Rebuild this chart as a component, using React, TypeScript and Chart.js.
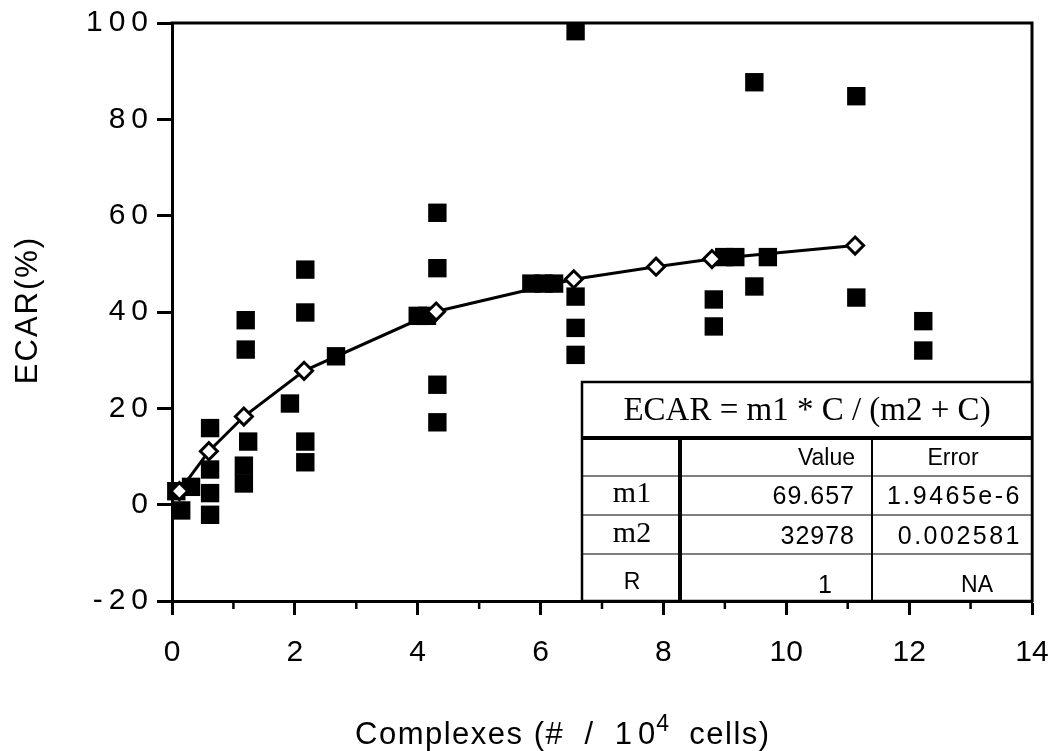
import React, { useEffect, useRef } from 'react';
import { Chart, registerables } from 'chart.js';

Chart.register(...registerables);

// Measured ECAR values at each complex density (x in units of 10^4 cells)
const measuredX = [0.07, 0.15, 0.31, 0.62, 0.62, 0.62, 0.62, 1.2, 1.2, 1.24, 1.17, 1.17, 1.92, 2.17, 2.17, 2.17, 2.17, 2.67, 4.0, 4.15, 4.32, 4.32, 4.32, 4.32, 5.85, 6.05, 6.22, 6.57, 6.57, 6.57, 6.57, 8.82, 8.82, 8.99, 9.17, 9.48, 9.48, 9.7, 11.14, 11.14, 12.23, 12.23];
const measuredY = [2.8, -1.2, 3.7, 15.9, 7.3, 2.4, -2.1, 38.3, 32.2, 13.1, 8.1, 4.4, 21.0, 48.8, 39.9, 13.1, 8.8, 30.8, 39.2, 39.2, 60.6, 49.1, 24.9, 17.1, 45.9, 45.9, 45.9, 98.3, 43.2, 36.7, 31.1, 42.6, 37.0, 51.4, 51.4, 87.7, 45.3, 51.4, 84.8, 43.0, 38.1, 32.0];

// Fitted curve points (open diamonds joined by a line)
const fitX = [0.12, 0.6, 1.17, 2.15, 4.3, 6.54, 7.88, 8.79, 11.12];
const fitY = [2.8, 11.1, 18.3, 27.8, 40.1, 46.8, 49.4, 51.0, 53.8];

// Axis ranges and labels
const xMin = 0;
const xMax = 14;
const xStep = 2;
const yMin = -20;
const yMax = 100;
const yStep = 20;
const yTitle = 'ECAR(%)';
const xTitleLead = 'Complexes (#  /  ';
const xTitleBase = '10';
const xTitleExp = '4';
const xTitleTail = '  cells)';

// Fit parameter table
const tableEquation = 'ECAR = m1 * C / (m2 + C)';
const tableHeaders = ['Value', 'Error'];
const paramNames = ['m1', 'm2', 'R'];
const paramValues = ['69.657', '32978', '1'];
const paramErrors = ['1.9465e-6', '0.002581', 'NA'];

const SANS = '"Liberation Sans", Arial, Helvetica, sans-serif';
const SERIF = '"Liberation Serif", "Times New Roman", serif';

const framePlugin = {
  id: 'frameAndTable',
  beforeDatasetsDraw(chart: any) {
    const { ctx, chartArea: a, scales } = chart;
    ctx.save();
    ctx.strokeStyle = '#000';
    ctx.lineWidth = 3;
    ctx.beginPath();
    ctx.moveTo(a.left - 1.5, a.top);
    ctx.lineTo(a.right, a.top);
    ctx.lineTo(a.right, a.bottom + 1.5);
    ctx.stroke();
    // minor ticks at odd x values
    const xs = scales.x;
    ctx.lineWidth = 2.5;
    ctx.beginPath();
    for (let v = xMin + 1; v < xMax; v += 2) {
      const px = xs.getPixelForValue(v);
      ctx.moveTo(px, a.bottom);
      ctx.lineTo(px, a.bottom + 8);
    }
    ctx.stroke();
    ctx.restore();
  },
  afterDatasetsDraw(chart: any) {
    // spaced digits for the value axis labels drawn in the next layer
    chart.ctx.letterSpacing = '6px';
  },
  afterDraw(chart: any) {
    const { ctx, chartArea: a } = chart;
    ctx.letterSpacing = '0px';
    ctx.save();
    ctx.fillStyle = '#000';

    // y-axis title
    ctx.save();
    ctx.translate(28, 311);
    ctx.rotate(-Math.PI / 2);
    ctx.font = `31px ${SANS}`;
    ctx.letterSpacing = '2px';
    ctx.textAlign = 'center';
    ctx.textBaseline = 'middle';
    ctx.fillText(yTitle, 1, 0);
    ctx.restore();

    // x-axis title with superscript exponent
    ctx.save();
    ctx.textBaseline = 'alphabetic';
    ctx.textAlign = 'left';
    ctx.font = `31px ${SANS}`;
    let x = 355;
    const base = 744;
    ctx.letterSpacing = '1.5px';
    ctx.fillText(xTitleLead, x, base);
    x += ctx.measureText(xTitleLead).width;
    ctx.letterSpacing = '6px';
    ctx.fillText(xTitleBase, x, base);
    x += ctx.measureText(xTitleBase).width - 5;
    ctx.font = `23px ${SANS}`;
    ctx.letterSpacing = '0px';
    ctx.fillText(xTitleExp, x, base - 13);
    x += ctx.measureText(xTitleExp).width;
    ctx.font = `31px ${SANS}`;
    ctx.letterSpacing = '1.5px';
    ctx.fillText(xTitleTail, x, base);
    ctx.restore();

    // parameter table
    const L = 582, T = 382, R = a.right, B = a.bottom;
    const titleLine = 438;
    const rowLines = [476, 515, 554];
    const c1 = 680, c2 = 872;
    ctx.fillStyle = '#fff';
    ctx.fillRect(L, T, R - L, B - T);
    ctx.strokeStyle = '#000';
    ctx.lineWidth = 1.2;
    ctx.beginPath();
    rowLines.forEach((ry) => { ctx.moveTo(L, ry); ctx.lineTo(R, ry); });
    ctx.stroke();
    ctx.lineWidth = 2;
    ctx.beginPath();
    ctx.moveTo(c2, titleLine); ctx.lineTo(c2, B);
    ctx.stroke();
    ctx.lineWidth = 4;
    ctx.beginPath();
    ctx.moveTo(L, titleLine); ctx.lineTo(R, titleLine);
    ctx.moveTo(c1, titleLine); ctx.lineTo(c1, B);
    ctx.stroke();
    ctx.lineWidth = 2.5;
    ctx.strokeRect(L, T, R - L, B - T);

    ctx.fillStyle = '#000';
    ctx.textBaseline = 'middle';
    ctx.font = `33px ${SERIF}`;
    ctx.textAlign = 'center';
    ctx.fillText(tableEquation, (L + R) / 2, 411);

    ctx.font = `23px ${SANS}`;
    ctx.textAlign = 'right';
    ctx.fillText(tableHeaders[0], 855, 459);
    ctx.textAlign = 'center';
    ctx.fillText(tableHeaders[1], 953, 459);

    const rowMid = [497, 537, 586];
    paramNames.forEach((name, i) => {
      ctx.textAlign = 'center';
      ctx.letterSpacing = '0px';
      if (name === 'R') {
        ctx.font = `23px ${SANS}`;
      } else {
        ctx.font = `30px ${SERIF}`;
      }
      ctx.fillText(name, 632, rowMid[i] - 3);

      ctx.font = `25px ${SANS}`;
      if (paramValues[i].length > 1) {
        ctx.textAlign = 'right';
        ctx.letterSpacing = '1px';
        ctx.fillText(paramValues[i], 855, rowMid[i]);
      } else {
        ctx.textAlign = 'center';
        ctx.fillText(paramValues[i], 825, rowMid[i]);
      }
      if (paramErrors[i].length > 2) {
        ctx.textAlign = 'right';
        ctx.letterSpacing = '2.5px';
        ctx.fillText(paramErrors[i], 1022, rowMid[i]);
      } else {
        ctx.textAlign = 'center';
        ctx.letterSpacing = '0px';
        ctx.font = `23px ${SANS}`;
        ctx.fillText(paramErrors[i], 977, rowMid[i]);
      }
    });
    ctx.letterSpacing = '0px';
    ctx.restore();
  },
};

export default function App() {
  const canvasRef = useRef<HTMLCanvasElement | null>(null);

  useEffect(() => {
    const canvas = canvasRef.current;
    if (!canvas) return;
    const chart = new Chart(canvas, {
      type: 'scatter',
      data: {
        datasets: [
          {
            label: 'fit',
            data: fitX.map((x, i) => ({ x, y: fitY[i] })),
            showLine: true,
            borderColor: '#000',
            borderWidth: 3,
            pointStyle: 'rectRot',
            pointRadius: 8.5,
            pointBackgroundColor: '#fff',
            pointBorderColor: '#000',
            pointBorderWidth: 3,
            clip: false,
          } as any,
          {
            label: 'measured',
            data: measuredX.map((x, i) => ({ x, y: measuredY[i] })),
            pointStyle: 'rect',
            pointRadius: 13,
            pointBackgroundColor: '#000',
            pointBorderColor: '#000',
            pointBorderWidth: 0,
            clip: false,
          } as any,
        ],
      },
      options: {
        responsive: false,
        animation: false,
        events: [],
        layout: { padding: { left: 0, top: 23, right: 24, bottom: 0 } },
        plugins: {
          legend: { display: false },
          tooltip: { enabled: false },
        },
        scales: {
          x: {
            type: 'linear',
            min: xMin,
            max: xMax,
            afterFit: (s: any) => {
              s.height = 150;
              s.paddingLeft = 0;
              s.paddingRight = 0;
            },
            border: { color: '#000', width: 3 },
            grid: { drawOnChartArea: false, drawTicks: true, tickLength: 14, tickWidth: 3, tickColor: '#000' },
            ticks: {
              stepSize: xStep,
              color: '#000',
              padding: 20,
              maxRotation: 0,
              autoSkip: false,
              font: { family: SANS, size: 30 },
            },
          },
          y: {
            type: 'linear',
            min: yMin,
            max: yMax,
            afterFit: (s: any) => {
              s.width = 172;
              s.paddingTop = 0;
              s.paddingBottom = 0;
            },
            border: { color: '#000', width: 3 },
            grid: { drawOnChartArea: false, drawTicks: true, tickLength: 15, tickWidth: 3, tickColor: '#000' },
            ticks: {
              stepSize: yStep,
              color: '#000',
              padding: 3,
              z: 1,
              font: { family: SANS, size: 30 },
            },
          },
        },
      },
      plugins: [framePlugin],
    });
    return () => chart.destroy();
  }, []);

  return (
    <canvas
      ref={canvasRef}
      width={1056}
      height={751}
      style={{ position: 'fixed', left: 0, top: 0, background: '#fff' }}
    />
  );
}
